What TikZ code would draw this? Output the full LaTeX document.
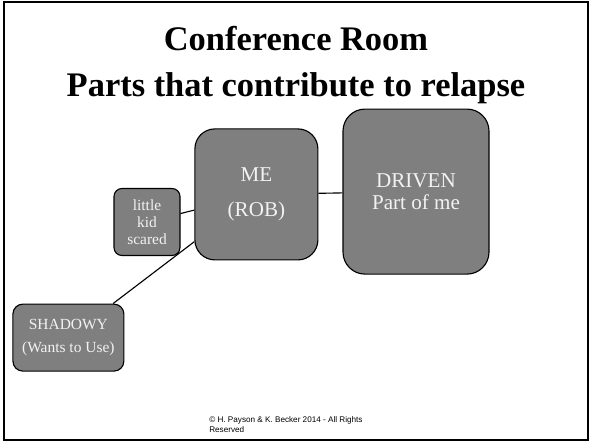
\documentclass[tikz,border=0pt]{standalone}
\usepackage{fontspec}
\setmainfont{Liberation Serif}
\newfontfamily\footfont{Liberation Sans}
\usepackage{tikz}
\definecolor{partgray}{HTML}{7F7F7F}
\definecolor{parttext}{HTML}{F2F2F2}
\tikzset{
  part/.style={draw=black, line width=0.8pt, fill=partgray, text=parttext,
    align=center, inner sep=0pt},
  heading/.style={font=\fontsize{24.5}{28}\selectfont\bfseries, anchor=base}
}

\begin{document}
\begin{tikzpicture}
\useasboundingbox (0,0) rectangle (14.8,-11.1);
\draw[line width=1.3pt] (0.11,-0.06) rectangle (14.7,-11.0);
\node[heading] (title) at (7.4,-1.27) {Conference Room};
\node[heading] (subtitle) at (7.4,-2.4) {Parts that contribute to relapse};
\node[part, rounded corners=0.5cm, minimum width=3.075cm, minimum height=3.275cm,
  font=\fontsize{15}{25}\selectfont] (me) at (6.41,-4.86) {ME\\(ROB)};
\node[part, rounded corners=0.55cm, minimum width=3.65cm, minimum height=4.125cm,
  font=\fontsize{15}{16}\selectfont] (driven) at (10.4,-4.79) {DRIVEN\\Part of me};
\node[part, rounded corners=0.2cm, minimum width=1.65cm, minimum height=1.675cm,
  font=\fontsize{11}{12}\selectfont] (kid) at (3.675,-5.55) {little\\kid\\scared};
\node[part, rounded corners=0.25cm, minimum width=2.775cm, minimum height=1.675cm,
  font=\fontsize{11}{16}\selectfont] (shadowy) at (1.71,-8.44) {SHADOWY\\(Wants to Use)};
\draw[line width=0.8pt] (kid) -- (me);
\draw[line width=0.8pt] (me) -- (driven);
\draw[line width=0.8pt] (shadowy) -- (me);
\node[anchor=north west, align=left, inner sep=0pt, font=\footfont\fontsize{5.8}{7.2}\selectfont]
  (footer) at (5.225,-10.4) {© H. Payson \& K. Becker 2014 - All Rights\\Reserved};
\end{tikzpicture}
\end{document}
